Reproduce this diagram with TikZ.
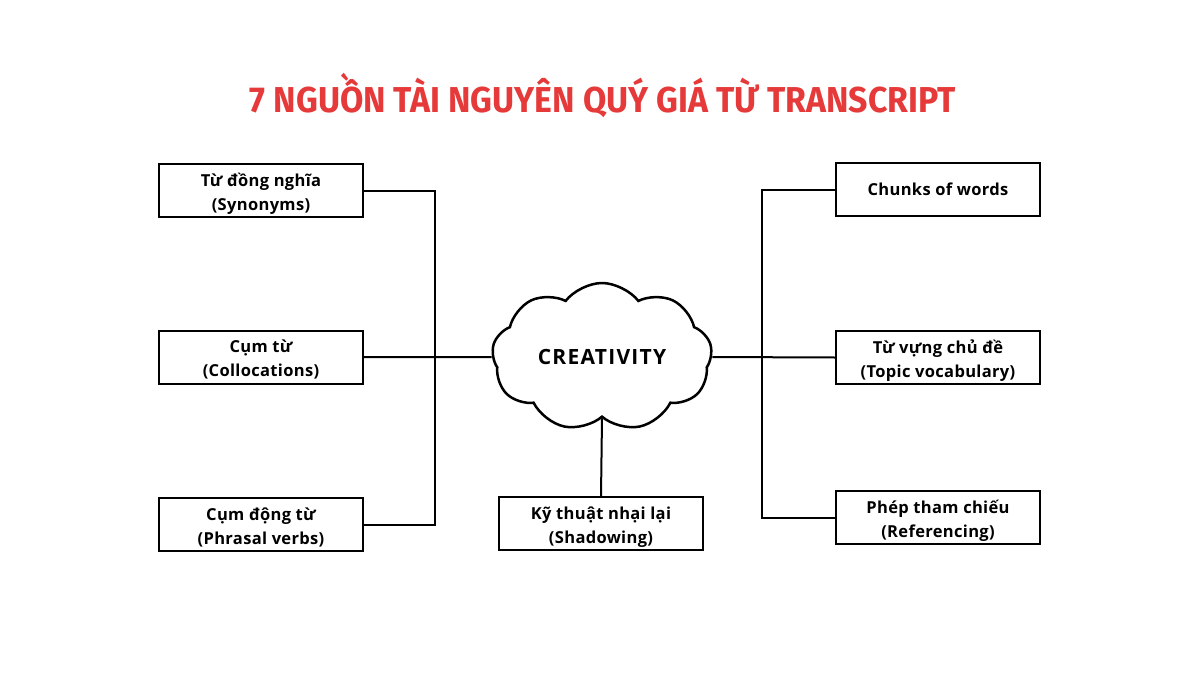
\documentclass[tikz,border=0pt]{standalone}
\usepackage{fontspec}
\setmainfont{Open Sans}
\newfontfamily\titlefont[FakeStretch=0.94]{Fira Sans}
\usetikzlibrary{shapes.symbols}
\definecolor{titlered}{HTML}{E63A3A}
\newcommand\twolines[2]{\raisebox{-3pt}[\height][\depth]{\begin{tabular}{@{}c@{}}#1\\#2\end{tabular}}}
\tikzset{
  box/.style={draw=black, line width=2pt, minimum width=204pt, minimum height=53pt, inner sep=0pt, align=center, font=\fontsize{16.5}{24}\selectfont\bfseries\addfontfeature{LetterSpace=2}},
  conn/.style={draw=black, line width=2pt},
}
\begin{document}
\begin{tikzpicture}[x=1pt,y=-1pt]
\useasboundingbox (0,0) rectangle (1200,680);
\fill[white] (0,0) rectangle (1200,680);
\node[titlered, font=\titlefont\fontsize{36}{40}\selectfont\bfseries] (title) at (603,95) {7 NGUỒN TÀI NGUYÊN QUÝ GIÁ TỪ TRANSCRIPT};
\node[cloud, draw=black, line width=2.5pt, cloud puffs=9, cloud puff arc=105, aspect=1.5, minimum width=220pt, minimum height=148pt, inner sep=0pt, font=\fontsize{21}{24}\selectfont\bfseries\addfontfeature{LetterSpace=6}] (c) at (602,357) {CREATIVITY};
\node[box] (l1) at (261,190.5) {\twolines{Từ đồng nghĩa}{(Synonyms)}};
\node[box] (l2) at (261,357) {\twolines{Cụm từ}{(Collocations)}};
\node[box] (l3) at (261,524.5) {\twolines{Cụm động từ}{(Phrasal verbs)}};
\node[box] (r1) at (938,189.5) {Chunks of words};
\node[box] (r2) at (938,357.5) {\twolines{Từ vựng chủ đề}{(Topic vocabulary)}};
\node[box] (r3) at (938,517.5) {\twolines{Phép tham chiếu}{(Referencing)}};
\node[box] (s) at (601,523.5) {\twolines{Kỹ thuật nhại lại}{(Shadowing)}};
\coordinate (lt) at (435,190.5);
\coordinate (lb) at (435,524.5);
\coordinate (rt) at (762,189.5);
\coordinate (rb) at (762,517.5);
\draw[conn] (l1.east) -- (lt) -- (lb) -- (l3.east);
\draw[conn] (l2.east) -- (c.west);
\draw[conn] (r1.west) -- (rt) -- (rb) -- (r3.west);
\draw[conn] (c.east) -- (r2.west);
\draw[conn] (c.south) -- (s.north);
\end{tikzpicture}
\end{document}
